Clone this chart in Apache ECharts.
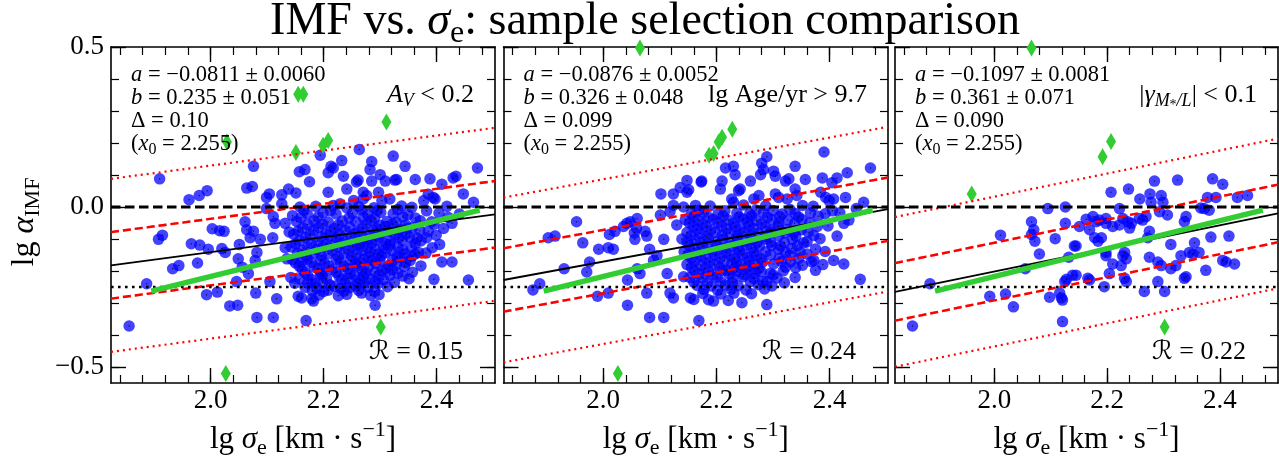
<!DOCTYPE html>
<html><head><meta charset="utf-8">
<script src="https://cdn.jsdelivr.net/npm/echarts@6/dist/echarts.min.js"></script>
<style>html,body{margin:0;padding:0;background:#fff}#c{width:1279px;height:464px}</style>
</head><body><div id="c"></div>
<script>
// ---------------- data ----------------
const X_RANGE = [1.824, 2.503];
const Y_RANGE = [-0.55, 0.5];
const X_MAJOR = [2.0, 2.2, 2.4];
const X_MINOR = [1.84,1.88,1.92,1.96,2.00,2.04,2.08,2.12,2.16,2.20,2.24,2.28,2.32,2.36,2.40,2.44,2.48];
const Y_MAJOR = [-0.5, 0.0, 0.5];
const Y_MINOR = [-0.5,-0.4,-0.3,-0.2,-0.1,0.0,0.1,0.2,0.3,0.4,0.5];
const X0 = 2.255;
const FIT_A = [-0.0811, -0.0876, -0.1097];
const FIT_B = [0.235, 0.326, 0.361];
const FIT_DELTA = [0.104, 0.099, 0.090];
const OUTER_FACTOR = 2.6;
const H_LEVELS = [0.0, -0.25];
const REF_LINE = [[1.895, -0.263], [2.476, -0.010]];
const TXT_A = ['−0.0811 ± 0.0060', '−0.0876 ± 0.0052', '−0.1097 ± 0.0081'];
const TXT_B = ['0.235 ± 0.051', '0.326 ± 0.048', '0.361 ± 0.071'];
const TXT_D = ['0.10', '0.099', '0.090'];
const TXT_R = ['0.15', '0.24', '0.22'];

const P1_BLUE = [
[1.856,-0.372],[1.887,-0.240],[1.908,-0.101],[1.915,-0.088],[1.910,0.088],[1.933,-0.193],[1.944,-0.183],
[1.962,0.023],[1.980,0.036],[1.994,0.051],[1.966,-0.115],[1.981,-0.119],[1.977,-0.175],[1.996,-0.132],
[1.993,-0.274],[2.012,-0.266],[2.003,-0.068],[2.016,-0.074],[2.024,-0.076],[2.020,-0.130],[2.026,-0.142],
[2.034,-0.309],[2.048,-0.307],[2.046,-0.233],[2.049,-0.162],[2.051,-0.117],[2.056,-0.188],[2.061,-0.046],
[2.064,-0.071],[2.067,-0.208],[2.070,-0.096],[2.076,-0.076],[2.080,-0.269],[2.082,-0.345],[2.082,-0.142],
[2.079,-0.167],[2.088,-0.101],[2.064,0.059],[2.074,0.064],[2.076,0.127],[2.099,0.030],[2.104,0.041],
[2.126,0.038],[2.138,0.056],[2.151,0.044],[2.157,0.110],[2.175,0.079],[2.194,0.162],[2.126,0.010],
[2.145,-0.027],[2.111,-0.030],[2.105,-0.233],[2.111,-0.345],[2.117,-0.287],[2.110,-0.096],[2.099,-0.005],
[2.114,-0.051],[2.132,-0.127],[2.132,-0.051],[2.139,-0.078],[2.135,-0.162],[2.142,-0.220],[2.149,-0.238],
[2.155,-0.279],[2.161,-0.284],[2.169,-0.355],[2.161,-0.172],[2.179,-0.287],[2.182,-0.294],[2.185,-0.238],[2.194,-0.208],
[2.263,0.180],[2.323,0.159],[2.232,0.145],[2.285,0.142],[2.282,0.117],[2.300,0.101],[2.344,0.127],[2.213,0.127],
[2.217,0.122],[2.208,0.107],[2.235,0.096],[2.261,0.084],[2.258,0.078],[2.285,0.081],[2.309,0.081],[2.326,0.084],
[2.329,0.086],[2.362,0.086],[2.388,0.088],[2.409,0.071],[2.429,0.091],[2.434,0.096],[2.472,0.122],[2.208,0.046],
[2.241,0.056],[2.447,0.041],[2.465,0.015],[2.385,0.040],[2.394,0.030],[2.377,0.020],[2.397,0.025],[2.303,0.020],
[2.317,0.025],[2.270,0.046],[2.276,0.036],[2.297,0.046],[2.253,0.020],[2.270,0.025],[2.217,0.005],[2.229,0.010],[2.167,0.117],
[2.456,-0.228],[2.427,-0.051],[2.409,-0.172],[2.427,-0.172],[2.382,-0.096],[2.385,-0.076],[2.365,-0.096],
[2.391,-0.046],[2.362,-0.147],[2.368,-0.142],[2.353,-0.167],[2.335,-0.157],
[2.329,-0.178],[2.317,-0.117],[2.315,-0.183],[2.317,-0.213],[2.303,-0.198],[2.291,-0.233],[2.282,-0.142],
[2.285,-0.167],[2.279,-0.188],[2.267,-0.269],[2.291,-0.307],[2.264,-0.228],[2.261,-0.238],[2.244,-0.223],
[2.247,-0.208],[2.230,-0.254],[2.211,-0.243],[2.200,-0.264],[2.188,-0.254],[2.309,-0.061],[2.335,-0.071],
[2.347,-0.066],[2.297,-0.147],[2.306,-0.122],[2.276,-0.107],[2.264,-0.117],
[2.158,0.000],[2.186,0.002],[2.241,-0.003],[2.262,0.001],[2.289,-0.002],[2.338,0.003],[2.356,-0.001],[2.418,0.002],
[2.171,-0.021],[2.199,-0.018],[2.222,-0.022],[2.251,-0.019],[2.278,-0.023],[2.301,-0.017],[2.323,-0.021],[2.349,-0.024],[2.404,-0.019],[2.440,-0.022],
[2.152,-0.045],[2.183,-0.043],[2.208,-0.047],[2.233,-0.044],[2.257,-0.046],[2.284,-0.042],[2.312,-0.045],[2.328,-0.048],[2.371,-0.043],
[2.163,-0.066],[2.191,-0.064],[2.219,-0.067],[2.246,-0.063],[2.269,-0.066],[2.294,-0.068],[2.357,-0.064],[2.412,-0.067],
[2.147,-0.085],[2.176,-0.087],[2.204,-0.084],[2.228,-0.086],[2.255,-0.083],[2.281,-0.088],[2.303,-0.085],[2.326,-0.087],[2.346,-0.084],[2.399,-0.088],
[2.158,-0.105],[2.189,-0.107],[2.214,-0.104],[2.239,-0.106],[2.292,-0.103],[2.318,-0.107],[2.339,-0.104],[2.372,-0.106],
[2.143,-0.125],[2.172,-0.127],[2.199,-0.124],[2.225,-0.126],[2.251,-0.123],[2.277,-0.127],[2.331,-0.125],[2.355,-0.124],[2.392,-0.127],
[2.154,-0.145],[2.183,-0.143],[2.208,-0.146],[2.236,-0.144],[2.259,-0.147],[2.309,-0.143],[2.344,-0.146],[2.381,-0.144],
[2.145,-0.165],[2.171,-0.163],[2.195,-0.166],[2.222,-0.164],[2.248,-0.167],[2.271,-0.163],[2.299,-0.165],[2.322,-0.166],
[2.157,-0.185],[2.183,-0.187],[2.209,-0.184],[2.236,-0.186],[2.259,-0.183],[2.343,-0.186],[2.372,-0.184],
[2.167,-0.205],[2.196,-0.207],[2.222,-0.204],[2.274,-0.206],[2.291,-0.203],[2.331,-0.207],[2.357,-0.204],
[2.158,-0.225],[2.179,-0.227],[2.205,-0.224],[2.232,-0.226],[2.281,-0.223],[2.306,-0.227],[2.351,-0.224],[2.395,-0.226],
[2.167,-0.251],[2.219,-0.248],[2.246,-0.252],[2.256,-0.247],[2.279,-0.251],[2.313,-0.249],
[2.192,-0.275],[2.226,-0.277],[2.241,-0.273],[2.283,-0.276],[2.298,-0.274],
[2.165,-0.010],[2.212,-0.012],[2.268,-0.009],[2.295,-0.011],[2.331,-0.008],[2.382,-0.012],
[2.160,-0.033],[2.190,-0.031],[2.245,-0.034],[2.270,-0.032],[2.290,-0.035],[2.340,-0.031],[2.362,-0.034],[2.420,-0.032],
[2.172,-0.055],[2.198,-0.053],[2.226,-0.056],[2.275,-0.054],[2.300,-0.057],[2.322,-0.053],[2.345,-0.056],[2.395,-0.054],
[2.155,-0.075],[2.182,-0.073],[2.212,-0.076],[2.238,-0.074],[2.262,-0.077],[2.288,-0.073],[2.315,-0.076],[2.370,-0.074],
[2.168,-0.095],[2.196,-0.093],[2.222,-0.096],[2.248,-0.094],[2.272,-0.097],[2.298,-0.093],[2.333,-0.096],[2.352,-0.094],
[2.150,-0.115],[2.178,-0.113],[2.205,-0.116],[2.232,-0.114],[2.260,-0.117],[2.285,-0.113],[2.310,-0.116],[2.362,-0.114],[2.405,-0.117],
[2.162,-0.135],[2.188,-0.133],[2.216,-0.136],[2.244,-0.134],[2.268,-0.137],[2.292,-0.133],[2.320,-0.136],[2.340,-0.134],
[2.170,-0.155],[2.196,-0.153],[2.226,-0.156],[2.250,-0.154],[2.280,-0.157],[2.302,-0.153],[2.330,-0.156],[2.356,-0.154],
[2.150,-0.175],[2.178,-0.173],[2.202,-0.176],[2.230,-0.174],[2.256,-0.177],[2.265,-0.173],[2.292,-0.176],[2.345,-0.174],
[2.162,-0.195],[2.190,-0.193],[2.215,-0.196],[2.243,-0.194],[2.268,-0.197],[2.310,-0.193],[2.322,-0.196],
[2.172,-0.215],[2.198,-0.213],[2.227,-0.216],[2.255,-0.214],[2.270,-0.217],[2.298,-0.213],[2.340,-0.216],
[2.172,-0.238],[2.198,-0.236],[2.238,-0.239],[2.272,-0.237],[2.296,-0.240],[2.325,-0.236],
[2.180,-0.262],[2.208,-0.260],[2.236,-0.263],[2.262,-0.261],[2.290,-0.264]
];
const P1_GREEN = [[2.066,0.502],[2.155,0.352],[2.164,0.352],[2.029,0.203],[2.151,0.170],[2.199,0.193],[2.208,0.208],[2.311,0.266],[2.027,-0.520],[2.301,-0.375]];

const P2_BLUE = [
[2.148,0.083],[2.136,0.061],[2.102,0.041],[2.124,0.041],[2.148,0.046],[2.151,0.054],[2.173,0.078],[2.124,0.005],[2.142,0.000],
[1.953,-0.046],[2.060,-0.036],[2.048,-0.046],
[1.876,-0.259],[1.888,-0.240],[1.903,-0.096],[1.915,-0.091],[1.964,-0.112],[1.931,-0.193],[1.971,-0.203],[1.976,-0.172],
[1.992,-0.132],[1.990,-0.279],[2.009,-0.269],[2.009,-0.127],[2.018,-0.132],[2.011,-0.086],[2.021,-0.076],[2.036,-0.061],
[2.042,-0.051],[2.043,-0.307],[2.043,-0.228],[2.056,-0.101],[2.055,-0.081],[2.059,-0.066],[2.074,-0.076],[2.077,-0.091],
[2.060,-0.193],[2.065,-0.208],[2.077,-0.269],[2.082,-0.345],[2.107,-0.345],[2.082,-0.132],[2.089,-0.167],[2.095,-0.152],
[2.107,-0.101],[2.113,-0.208],[2.118,-0.269],[2.124,-0.284],[2.142,-0.218],[2.169,-0.355],[2.154,-0.284],[2.160,-0.289],
[2.130,-0.056],[2.118,-0.015],[2.101,-0.025],
[2.390,0.172],[2.289,0.157],[2.280,0.137],[2.283,0.117],[2.278,0.101],[2.301,0.112],[2.304,0.096],[2.216,0.122],
[2.230,0.127],[2.233,0.101],[2.210,0.081],[2.207,0.056],[2.260,0.081],[2.242,0.056],[2.239,0.051],[2.322,0.081],
[2.328,0.088],[2.339,0.127],[2.357,0.086],[2.387,0.091],[2.404,0.076],[2.413,0.091],[2.431,0.107],[2.472,0.122],
[2.428,0.030],[2.460,0.015],[2.384,0.046],[2.393,0.030],[2.399,0.020],[2.407,0.025],[2.339,0.056],[2.342,0.036],
[2.304,0.041],[2.310,0.030],[2.325,0.025],[2.266,0.025],[2.275,0.036],[2.227,0.025],[2.230,0.015],[2.174,0.081],
[2.454,-0.226],[2.425,-0.178],[2.407,-0.167],[2.413,-0.091],[2.425,-0.051],[2.434,-0.041],[2.447,-0.005],[2.375,-0.198],
[2.372,-0.167],[2.360,-0.147],[2.348,-0.142],[2.354,-0.112],[2.337,-0.081],[2.313,-0.122],[2.331,-0.172],[2.322,-0.188],
[2.301,-0.178],[2.295,-0.208],[2.289,-0.305],[2.245,-0.299],[2.260,-0.233],[2.266,-0.223],[2.289,-0.233],[2.195,-0.294],
[2.218,-0.198],[2.227,-0.178],
[2.163,0.005],[2.189,0.003],[2.248,0.006],[2.287,0.004],[2.352,0.005],[2.371,0.002],
[2.156,-0.020],[2.177,-0.018],[2.203,-0.022],[2.236,-0.019],[2.259,-0.021],[2.283,-0.018],[2.316,-0.022],[2.339,-0.020],[2.366,-0.019],[2.392,-0.021],[2.418,-0.018],
[2.145,-0.040],[2.168,-0.042],[2.194,-0.039],[2.221,-0.041],[2.247,-0.038],[2.271,-0.042],[2.298,-0.040],[2.326,-0.041],[2.351,-0.039],
[2.159,-0.060],[2.182,-0.062],[2.209,-0.059],[2.233,-0.061],[2.258,-0.058],[2.286,-0.062],[2.309,-0.060],[2.378,-0.061],[2.397,-0.059],
[2.148,-0.080],[2.171,-0.082],[2.198,-0.079],[2.224,-0.081],[2.249,-0.078],[2.274,-0.082],[2.297,-0.080],[2.321,-0.081],[2.362,-0.079],
[2.139,-0.100],[2.163,-0.102],[2.186,-0.099],[2.212,-0.101],[2.237,-0.098],[2.262,-0.102],[2.287,-0.100],[2.334,-0.101],[2.383,-0.099],
[2.152,-0.120],[2.176,-0.122],[2.201,-0.119],[2.228,-0.121],[2.253,-0.118],[2.276,-0.122],[2.298,-0.120],[2.343,-0.121],
[2.143,-0.140],[2.167,-0.142],[2.193,-0.139],[2.217,-0.141],[2.241,-0.138],[2.266,-0.142],[2.287,-0.140],[2.322,-0.141],[2.392,-0.139],
[2.156,-0.160],[2.181,-0.162],[2.206,-0.159],[2.232,-0.161],[2.255,-0.158],[2.279,-0.162],[2.311,-0.160],[2.345,-0.161],
[2.148,-0.180],[2.172,-0.182],[2.197,-0.179],[2.243,-0.181],[2.268,-0.178],[2.352,-0.182],[2.388,-0.180],
[2.161,-0.200],[2.186,-0.202],[2.211,-0.199],[2.236,-0.201],[2.258,-0.198],[2.279,-0.202],[2.318,-0.200],
[2.153,-0.220],[2.176,-0.222],[2.201,-0.219],[2.229,-0.221],[2.247,-0.218],[2.307,-0.222],[2.339,-0.220],
[2.166,-0.245],[2.191,-0.247],[2.216,-0.244],[2.238,-0.246],[2.274,-0.243],[2.298,-0.247],
[2.176,-0.270],[2.208,-0.272],[2.231,-0.269],[2.262,-0.271],[2.186,-0.290],[2.221,-0.292],
[2.170,-0.010],[2.215,-0.012],[2.270,-0.009],[2.300,-0.011],[2.330,-0.008],[2.405,-0.012],
[2.160,-0.030],[2.186,-0.032],[2.212,-0.029],[2.240,-0.031],[2.262,-0.028],[2.290,-0.032],[2.312,-0.030],[2.345,-0.031],[2.380,-0.029],
[2.152,-0.050],[2.176,-0.052],[2.203,-0.049],[2.230,-0.051],[2.255,-0.048],[2.280,-0.052],[2.310,-0.050],[2.338,-0.051],[2.365,-0.049],
[2.166,-0.070],[2.190,-0.072],[2.218,-0.069],[2.242,-0.071],[2.266,-0.068],[2.296,-0.072],[2.325,-0.070],[2.350,-0.071],
[2.155,-0.090],[2.182,-0.092],[2.210,-0.089],[2.236,-0.091],[2.260,-0.088],[2.286,-0.092],[2.310,-0.090],[2.340,-0.091],[2.372,-0.089],
[2.148,-0.110],[2.172,-0.112],[2.198,-0.109],[2.224,-0.111],[2.250,-0.108],[2.272,-0.112],[2.296,-0.110],[2.320,-0.111],[2.360,-0.109],
[2.160,-0.130],[2.186,-0.132],[2.212,-0.129],[2.238,-0.131],[2.262,-0.128],[2.310,-0.132],[2.333,-0.130],[2.375,-0.131],
[2.150,-0.150],[2.172,-0.152],[2.198,-0.149],[2.224,-0.151],[2.246,-0.148],[2.270,-0.152],[2.296,-0.150],[2.330,-0.151],
[2.162,-0.170],[2.188,-0.172],[2.214,-0.169],[2.236,-0.171],[2.258,-0.168],[2.282,-0.172],[2.315,-0.170],[2.368,-0.171],
[2.156,-0.190],[2.180,-0.192],[2.206,-0.189],[2.232,-0.191],[2.254,-0.188],[2.275,-0.192],[2.340,-0.190],
[2.170,-0.210],[2.194,-0.212],[2.222,-0.209],[2.248,-0.211],[2.268,-0.208],[2.300,-0.212],
[2.160,-0.235],[2.184,-0.237],[2.208,-0.234],[2.228,-0.236],[2.282,-0.233],[2.320,-0.237],
[2.178,-0.258],[2.202,-0.260],[2.226,-0.257],[2.252,-0.259],[2.285,-0.256]
];
const P2_GREEN = [[2.065,0.497],[2.187,0.162],[2.195,0.167],[2.204,0.203],[2.210,0.218],[2.228,0.243],[2.026,-0.520]];

const P3_BLUE = [
[2.095,-0.005],[2.126,0.000],[2.066,-0.046],[2.126,-0.051],[1.855,-0.372],[1.886,-0.240],[2.011,-0.088],[1.992,-0.279],
[2.020,-0.272],[2.034,-0.312],[2.055,-0.193],[2.070,-0.071],[2.066,-0.086],[2.072,-0.107],[2.080,-0.147],[2.108,-0.099],
[2.098,-0.282],[2.116,-0.269],[2.119,-0.284],[2.121,-0.291],[2.121,-0.358],[2.125,-0.233],[2.128,-0.226],[2.132,-0.157],
[2.139,-0.213],[2.145,-0.122],
[2.207,0.046],[2.238,0.056],[2.258,0.025],[2.276,0.041],[2.284,0.081],[2.296,0.036],[2.299,0.015],[2.325,0.084],
[2.387,0.088],[2.405,0.071],[2.378,0.030],[2.431,0.030],[2.449,0.036],[2.372,-0.005],[2.366,-0.003],[2.222,-0.005],
[2.340,-0.030],[2.307,-0.025],[2.293,-0.015],[2.269,-0.030],[2.257,-0.036],[2.181,-0.046],[2.198,-0.036],
[2.278,0.015],[2.393,0.030],[2.381,-0.010],[2.337,-0.046],[2.263,-0.041],[2.228,-0.036],[2.222,-0.056],[2.237,-0.046],
[2.243,-0.051],[2.240,-0.066],[2.198,-0.051],[2.210,-0.061],[2.186,-0.041],[2.151,-0.061],[2.169,-0.071],[2.178,-0.096],
[2.184,-0.107],[2.190,-0.096],[2.142,-0.122],[2.198,-0.142],[2.228,-0.152],[2.234,-0.162],[2.231,-0.142],[2.210,-0.178],
[2.225,-0.183],[2.275,-0.076],[2.272,-0.096],[2.275,-0.157],[2.290,-0.172],[2.296,-0.183],[2.313,-0.117],[2.313,-0.193],
[2.322,-0.183],[2.331,-0.152],[2.346,-0.142],[2.352,-0.147],[2.355,-0.112],[2.363,-0.142],[2.375,-0.198],[2.384,-0.094],
[2.416,-0.091],[2.405,-0.167],[2.411,-0.172],[2.426,-0.178],[2.337,-0.223],[2.340,-0.218],[2.290,-0.233],[2.302,-0.264],
[2.266,-0.264],[2.231,-0.223],[2.234,-0.233],[2.204,-0.208],[2.195,-0.249],[2.166,-0.223],[2.169,-0.228],[2.145,-0.213],
[2.198,-0.152],[2.163,-0.038],[2.175,-0.030]
];
const P3_GREEN = [[2.066,0.497],[1.960,0.041],[2.192,0.157],[2.207,0.205],[2.302,-0.375]];

const BLUE = [P1_BLUE, P2_BLUE, P3_BLUE];
const GREEN = [P1_GREEN, P2_GREEN, P3_GREEN];

// ---------------- layout ----------------
const FF = "'Liberation Serif','DejaVu Serif',serif";
const GRIDS = [
  {left: 111, top: 47, width: 384, height: 345.7},
  {left: 503.5, top: 47, width: 384.5, height: 345.7},
  {left: 895, top: 47, width: 383, height: 345.7}
];
function rich(S) {
  const s = Math.round(S * 0.7);
  return {
    i: {fontFamily: FF, fontStyle: 'italic', fontSize: S, color: '#000'},
    n: {fontFamily: FF, fontSize: S, color: '#000'},
    sub: {fontFamily: FF, fontSize: s, padding: [Math.round(S * 0.5), 0, 0, 0], color: '#000'},
    isub: {fontFamily: FF, fontStyle: 'italic', fontSize: s, padding: [Math.round(S * 0.5), 0, 0, 0], color: '#000'},
    ssub: {fontFamily: FF, fontSize: Math.round(S * 0.55), padding: [Math.round(S * 0.8), 0, 0, 0], color: '#000'},
    sup: {fontFamily: FF, fontSize: s, padding: [0, 0, Math.round(S * 0.65), 0], color: '#000'},
    r: {fontFamily: "'DejaVu Serif','DejaVu Sans',serif", fontStyle: 'italic', fontSize: S, color: '#000'}
  };
}
const AXLINE = {color: '#000', width: 1.6};
const xAxes = [], yAxes = [];
GRIDS.forEach((g, i) => {
  const base = {type: 'value', gridIndex: i, min: X_RANGE[0], max: X_RANGE[1], splitLine: {show: false}};
  xAxes.push(Object.assign({}, base, {
    position: 'bottom',
    axisLine: {show: true, onZero: false, lineStyle: AXLINE},
    axisTick: {show: true, inside: true, length: 15, customValues: X_MAJOR, lineStyle: {color: '#000', width: 1.4}},
    axisLabel: {show: true, customValues: X_MAJOR, formatter: v => v.toFixed(1), fontFamily: FF, fontSize: 27, color: '#000', margin: 4},
    name: 'lg {i|σ}{sub|e} [km · s{sup|−1}]', nameLocation: 'middle', nameGap: 36,
    nameTextStyle: {fontFamily: FF, fontSize: 31, color: '#000', rich: rich(31)}
  }));
  xAxes.push(Object.assign({}, base, {
    position: 'bottom', axisLine: {show: false, onZero: false},
    axisTick: {show: true, inside: true, length: 8, customValues: X_MINOR, lineStyle: {color: '#000', width: 1.2}},
    axisLabel: {show: false}
  }));
  xAxes.push(Object.assign({}, base, {
    position: 'top', axisLine: {show: true, onZero: false, lineStyle: AXLINE},
    axisTick: {show: true, inside: true, length: 15, customValues: X_MAJOR, lineStyle: {color: '#000', width: 1.4}},
    axisLabel: {show: false}
  }));
  xAxes.push(Object.assign({}, base, {
    position: 'top', axisLine: {show: false, onZero: false},
    axisTick: {show: true, inside: true, length: 8, customValues: X_MINOR, lineStyle: {color: '#000', width: 1.2}},
    axisLabel: {show: false}
  }));
  const ybase = {type: 'value', gridIndex: i, min: Y_RANGE[0], max: Y_RANGE[1], splitLine: {show: false}};
  yAxes.push(Object.assign({}, ybase, {
    position: 'left',
    axisLine: {show: true, onZero: false, lineStyle: AXLINE},
    axisTick: {show: true, inside: true, length: 15, customValues: Y_MAJOR, lineStyle: {color: '#000', width: 1.4}},
    axisLabel: {show: i === 0, customValues: Y_MAJOR, formatter: v => v.toFixed(1).replace('-', '−'), fontFamily: FF, fontSize: 27, color: '#000', margin: 7}
  }));
  yAxes.push(Object.assign({}, ybase, {
    position: 'left', axisLine: {show: false, onZero: false},
    axisTick: {show: true, inside: true, length: 8, customValues: Y_MINOR, lineStyle: {color: '#000', width: 1.2}},
    axisLabel: {show: false}
  }));
  yAxes.push(Object.assign({}, ybase, {
    position: 'right', axisLine: {show: true, onZero: false, lineStyle: AXLINE},
    axisTick: {show: true, inside: true, length: 15, customValues: Y_MAJOR, lineStyle: {color: '#000', width: 1.4}},
    axisLabel: {show: false}
  }));
  yAxes.push(Object.assign({}, ybase, {
    position: 'right', axisLine: {show: false, onZero: false},
    axisTick: {show: true, inside: true, length: 8, customValues: Y_MINOR, lineStyle: {color: '#000', width: 1.2}},
    axisLabel: {show: false}
  }));
});

const series = [];
GRIDS.forEach((g, i) => {
  const xi = i * 4, yi = i * 4;
  const a = FIT_A[i], b = FIT_B[i], d = FIT_DELTA[i];
  const fitLine = off => X_RANGE.map(x => [x, a + b * (x - X0) + off]);
  const ln = (data, color, width, type, opacity) => ({
    type: 'line', xAxisIndex: xi, yAxisIndex: yi, data, symbol: 'none', silent: true, animation: false,
    lineStyle: {color, width, type, cap: 'butt', opacity: opacity == null ? 1 : opacity}
  });
  // red band lines beneath the points (opaque), then a faint copy above to show through the cloud
  series.push(ln(fitLine(d), '#ff0000', 2.4, [8, 4]));
  series.push(ln(fitLine(-d), '#ff0000', 2.4, [8, 4]));
  series.push({type: 'scatter', xAxisIndex: xi, yAxisIndex: yi, data: BLUE[i], symbol: 'circle', symbolSize: 11.5,
    itemStyle: {color: 'rgba(0,0,255,0.74)', opacity: 1}, silent: true, animation: false});
  series.push({type: 'scatter', xAxisIndex: xi, yAxisIndex: yi, data: BLUE[i], symbol: 'circle', symbolSize: 1.5,
    itemStyle: {color: 'rgba(0,0,0,0.7)', opacity: 1}, silent: true, animation: false});
  series.push(ln(fitLine(d), '#ff0000', 2.4, [8, 4], 0.4));
  series.push(ln(fitLine(-d), '#ff0000', 2.4, [8, 4], 0.4));
  series.push(ln(fitLine(OUTER_FACTOR * d), '#ff0000', 2.2, [2, 4]));
  series.push(ln(fitLine(-OUTER_FACTOR * d), '#ff0000', 2.2, [2, 4]));
  series.push(ln(X_RANGE.map(x => [x, H_LEVELS[0]]), '#000', 2.8, [9.5, 4.5]));
  series.push(ln(X_RANGE.map(x => [x, H_LEVELS[1]]), '#000', 2.6, [2.6, 4.4]));
  series.push(ln(fitLine(0), '#000', 1.8, 'solid'));
  series.push(ln(REF_LINE, '#32cd32', 5.5, 'solid'));
  series.push({type: 'scatter', xAxisIndex: xi, yAxisIndex: yi, data: GREEN[i], symbol: 'diamond', symbolSize: [10, 17],
    itemStyle: {color: '#32cd32', opacity: 1}, silent: true, animation: false});
});

const graphics = [];
const gtext = (x, y, text, S, align, rotation) => ({
  type: 'text', x, y, z: 100, silent: true, rotation: rotation || 0,
  style: {text, rich: rich(S), fontFamily: FF, fontSize: S, fill: '#000', align, verticalAlign: 'middle'}
});
graphics.push(gtext(645, 22, 'IMF vs. {i|σ}{sub|e}: sample selection comparison', 46, 'center'));
graphics.push(gtext(25, 222, 'lg {i|α}{sub|IMF}', 32, 'center', Math.PI / 2));
const PANEL_TAGS = ['{i|A}{isub|V} < 0.2', 'lg Age/yr > 9.7', '|{i|γ}{isub|M}{ssub|*}{isub|/L}| < 0.1'];
GRIDS.forEach((g, i) => {
  const L = g.left + 20, R = g.left + g.width;
  graphics.push(gtext(L, 75, '{i|a} = ' + TXT_A[i], 22.5, 'left'));
  graphics.push(gtext(L, 98, '{i|b} = ' + TXT_B[i], 22.5, 'left'));
  graphics.push(gtext(L, 121, 'Δ = ' + TXT_D[i], 22.5, 'left'));
  graphics.push(gtext(L, 144, '({i|x}{sub|0} = ' + X0.toFixed(3) + ')', 22.5, 'left'));
  graphics.push(gtext(R - 21, 95, PANEL_TAGS[i], 26, 'right'));
  graphics.push(gtext(R - 32, 352, '{r|ℛ} = ' + TXT_R[i], 26, 'right'));
});

const chart = echarts.init(document.getElementById('c'), null, {renderer: 'canvas'});
chart.setOption({
  animation: false,
  backgroundColor: '#fff',
  grid: GRIDS,
  xAxis: xAxes,
  yAxis: yAxes,
  series,
  graphic: graphics
});
</script></body></html>
